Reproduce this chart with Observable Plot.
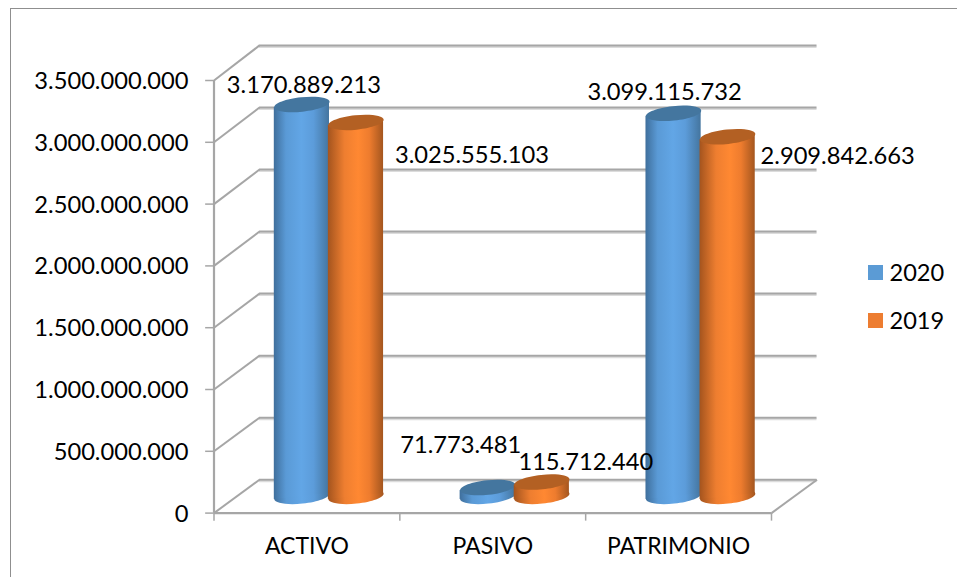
<!DOCTYPE html>
<html>
<head>
<meta charset="utf-8">
<script src="https://cdn.jsdelivr.net/npm/d3@7"></script>
<script src="https://cdn.jsdelivr.net/npm/@observablehq/plot@0.6"></script>
<style>
html,body{margin:0;padding:0;background:#fff;width:957px;height:577px;overflow:hidden;font-family:Lato,sans-serif}
#frame{position:absolute;left:10px;top:8px;right:-5px;bottom:-5px;border-left:1.5px solid #8f8f8f;border-top:1.5px solid #8f8f8f}
#chart{position:absolute;left:0;top:0}
.key{position:absolute;left:868px;display:flex;align-items:center;font-size:23.6px;color:#000;line-height:15px}
.key i{display:block;width:15px;height:15px;margin-right:6.5px}
</style>
</head>
<body>
<div id="frame"></div>
<div id="chart"></div>
<div class="key" style="top:265px"><i style="background:#5b9bd5"></i>2020</div>
<div class="key" style="top:313px"><i style="background:#ed7d31"></i>2019</div>
<script>
const categories = ["ACTIVO", "PASIVO", "PATRIMONIO"];
const values2020 = [3170889213, 71773481, 3099115732];
const values2019 = [3025555103, 115712440, 2909842663];
const yTicks = [0, 500000000, 1000000000, 1500000000, 2000000000, 2500000000, 3000000000, 3500000000];
const xTicks = [0, 1, 2, 3];

// 3D projection of the chart box, in scale units
const depthX = 0.245, depthY = 270000000, backScale = 1.004;
const baseY = depthY / 2, barW = 0.297, barGap = 0.1455, capSlope = 24000000, pairShift = -0.004;
const backY = d => d * backScale + depthY;

const gridColor = "#a6a6a6";
const fontSize = 23.7;
const fmt = d => d3.format(",")(d).replace(/,/g, ".");

// tilted ellipse for cylinder caps
const cap = {
  draw(ctx, size) {
    const rx = Math.sqrt(size / Math.PI), ry = rx * 0.26, t = -6 * Math.PI / 180, k = 0.5523;
    const P = (x, y) => [x * Math.cos(t) - y * Math.sin(t), x * Math.sin(t) + y * Math.cos(t)];
    const C = (a, b, c, d, e, f) => ctx.bezierCurveTo(...P(a, b), ...P(c, d), ...P(e, f));
    ctx.moveTo(...P(rx, 0));
    C(rx, k * ry, k * rx, ry, 0, ry);
    C(-k * rx, ry, -rx, k * ry, -rx, 0);
    C(-rx, -k * ry, -k * rx, -ry, 0, -ry);
    C(k * rx, -ry, rx, -k * ry, rx, 0);
    ctx.closePath();
  }
};

const gradients = () => {
  const defs = d3.create("svg:defs");
  const add = (id, stops) => {
    const g = defs.append("linearGradient").attr("id", id);
    stops.forEach(([o, c]) => g.append("stop").attr("offset", o).attr("stop-color", c));
  };
  add("blueG", [[0, "#3f6f9c"], [0.22, "#5a9ad6"], [0.5, "#62a6e6"], [0.72, "#5c9cda"], [1, "#44759f"]]);
  add("orangeG", [[0, "#a4541e"], [0.3, "#ee7e30"], [0.55, "#ff8832"], [0.75, "#ee7c2e"], [1, "#a4561f"]]);
  return defs.node();
};

const labelOffsets = [
  [[2, -19], [-27, -42], [-9, -21]],
  [[116, 33], [44, -20], [110, 20]]
];

function cylinders(values, sign, grad, top, offsets) {
  const rows = values.map((v, i) => ({
    x: i + 0.5 + depthX / 2 + sign * barGap + pairShift,
    v,
    y: v + baseY
  }));
  // body: a sheared band whose top and bottom follow the tilt of the caps
  const edges = rows.flatMap((r, i) => [-1, 1].map(side => ({
    z: i,
    x: r.x + side * barW / 2,
    y1: baseY + side * capSlope,
    y2: r.y + side * capSlope
  })));
  return [
    Plot.dot(rows, {x: "x", y: () => baseY, r: 27.8, symbol: cap, fill: `url(#${grad})`, stroke: "none"}),
    Plot.areaY(edges, {x: "x", y1: "y1", y2: "y2", z: "z", fill: `url(#${grad})`}),
    Plot.dot(rows, {x: "x", y: "y", r: 27.8, symbol: cap, fill: top, stroke: "none"}),
    rows.map((r, i) => Plot.text([r], {
      x: "x", y: "y", text: d => fmt(d.v), dx: offsets[i][0], dy: offsets[i][1],
      fontSize, fill: "#000", textAnchor: "middle"
    }))
  ];
}

const plot = Plot.plot({
  width: 957,
  height: 577,
  marginLeft: 213.5,
  marginRight: 186,
  marginTop: 80,
  marginBottom: 64.4,
  style: {fontFamily: "Lato, sans-serif", background: "transparent", overflow: "visible"},
  x: {domain: [0, 3], axis: null},
  y: {domain: [0, 3500000000], axis: null},
  marks: [
    gradients,
    // soft shadows of the grid
    Plot.ruleY(yTicks, {x1: depthX, x2: 3 + depthX, y: backY, stroke: "#dcdcdc", strokeWidth: 2, dy: 1.5}),
    // back wall
    Plot.ruleY(yTicks, {x1: depthX, x2: 3 + depthX, y: backY, stroke: gridColor, strokeWidth: 2}),
    // side wall
    Plot.link(yTicks, {x1: 0, x2: depthX, y1: d => d, y2: backY, stroke: gridColor, strokeWidth: 2}),
    // floor
    Plot.link([0], {x1: 3, x2: 3 + depthX, y1: 0, y2: depthY, stroke: gridColor, strokeWidth: 2}),
    Plot.ruleY([0], {x1: 0, x2: 3, stroke: gridColor, strokeWidth: 2.2}),
    Plot.ruleX([0], {y1: 0, y2: 3500000000, stroke: gridColor, strokeWidth: 2.2}),
    Plot.ruleX(xTicks, {y1: 0, y2: -65000000, stroke: gridColor, strokeWidth: 1.5}),
    Plot.ruleY(yTicks, {x1: -0.045, x2: 0, stroke: gridColor, strokeWidth: 1.5}),
    Plot.axisY(yTicks, {
      anchor: "left", tickSize: 0, tickPadding: 25.5, tickFormat: fmt, label: null,
      fill: "#000", fontSize, dy: 1
    }),
    Plot.axisX(categories.map((c, i) => i + 0.5), {
      anchor: "bottom", tickSize: 0, tickPadding: 34, label: null,
      tickFormat: d => categories[d - 0.5], fill: "#000", fontSize: 23, lineAnchor: "middle"
    }),
    cylinders(values2020, -1, "blueG", "#44769f", labelOffsets[0]),
    cylinders(values2019, 1, "orangeG", "#b36023", labelOffsets[1])
  ]
});
document.getElementById("chart").append(plot);
</script>
</body>
</html>
